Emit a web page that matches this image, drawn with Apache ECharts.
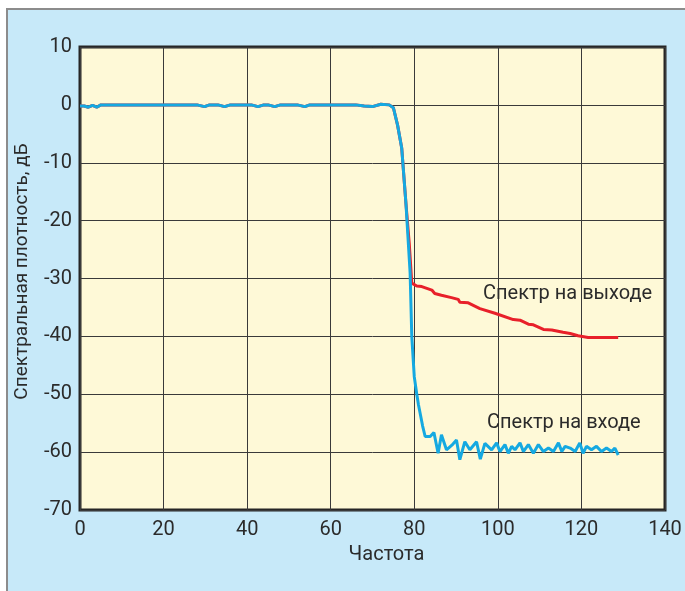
<!DOCTYPE html>
<html>
<head>
<meta charset="utf-8">
<script src="https://cdn.jsdelivr.net/npm/echarts@6/dist/echarts.min.js"></script>
<style>
  html, body { margin: 0; padding: 0; background: #fff; }
  #chart { width: 685px; height: 591px; }
</style>
</head>
<body>
<div id="chart"></div>
<script>
// оси
const xTicks = [0, 20, 40, 60, 80, 100, 120, 140];
const yTicks = [-70, -60, -50, -40, -30, -20, -10, 0, 10];

// общая полоса пропускания (0..74)
const passFreq = [0, 1, 2, 3, 4, 5, 6, 28, 29.8, 31, 33, 34.6, 36, 41, 42.6, 44, 45, 46.6, 48, 52, 53.8, 55, 66, 68, 70, 72, 74];
const passDb = [-0.2, -0.2, -0.4, -0.1, -0.4, 0, 0, 0, -0.3, 0, 0, -0.3, 0, 0, -0.3, 0, 0, -0.3, 0, 0, -0.3, 0, 0, -0.2, -0.3, 0.1, 0];

// спектр на входе (голубой), после полосы пропускания
const inFreq = [75, 76, 77, 78, 79, 79.4, 80, 80.6, 81, 82, 82.6, 83.8, 84.7, 85.7, 86.5, 87.7, 89, 90.1, 90.9, 92.1, 93.3, 94.9, 95.8, 96.9,
  98.5, 99.7, 100.5, 101.7, 102.5, 103.3, 104.1, 105.3, 106.1, 107.3, 108.5, 109.7, 110.9, 112.1, 113.3, 114.5, 115.3, 116.1,
  117.3, 118.5, 119.6, 120.4, 121.2, 122.4, 123.6, 124.8, 126.0, 127.2, 128.0, 128.8];
const inDb = [-0.5, -3.5, -7.5, -17, -29, -40, -47, -50, -51.8, -55.5, -57.3, -57.3, -56.6, -60.2, -57.0, -59.6, -58.8, -57.9, -61.3, -58.2, -59.6, -58.2, -61.2, -58.5,
  -59.6, -58.4, -59.9, -58.7, -60.2, -59.0, -59.6, -58.4, -59.9, -58.7, -60.2, -58.7, -59.9, -59.3, -59.9, -58.4, -59.9, -59.0,
  -59.3, -59.9, -58.4, -60.2, -59.0, -59.6, -59.0, -59.9, -59.3, -59.9, -59.3, -60.5];

// спектр на выходе (красный), после полосы пропускания
const outFreq = [75, 76, 77, 78, 78.8, 79.4, 80.6, 81.8, 84.2, 84.9, 86.5, 88.9, 90.5, 90.9, 92.9, 95.7, 99.3,
  103.7, 105.3, 107.3, 108.5, 110.9, 112.9, 115.6, 117.3, 119.2, 121.6, 128.8];
const outDb = [-0.5, -3.5, -7.5, -17, -24, -30.8, -31.3, -31.4, -32.0, -32.6, -32.9, -33.3, -33.6, -34.1, -34.2, -35.2, -36.0,
  -37.1, -37.2, -37.9, -38.0, -38.8, -38.9, -39.3, -39.5, -39.9, -40.2, -40.2];

const FONT = 'Roboto';
const TEXT = '#2b2b2b';

const chart = echarts.init(document.getElementById('chart'));

function pairs(xs, ys) {
  return xs.map((x, i) => [x, ys[i]]);
}

chart.setOption({
  animation: false,
  backgroundColor: '#ffffff',
  graphic: [{
    type: 'rect',
    z: -10,
    silent: true,
    shape: { x: 7, y: 9, width: 700, height: 600 },
    style: { fill: '#c7e9f9', stroke: '#8c8c8c', lineWidth: 2 }
  }, {
    type: 'text',
    left: 483,
    top: 284,
    z: 10,
    style: { text: 'Спектр на выходе', fill: TEXT, font: '20px ' + FONT }
  }, {
    type: 'text',
    left: 487,
    top: 413,
    z: 10,
    style: { text: 'Спектр на входе', fill: TEXT, font: '20px ' + FONT }
  }],
  grid: {
    left: 80,
    top: 47,
    right: 20,
    bottom: 81,
    show: true,
    backgroundColor: '#fef9d7',
    borderColor: '#262626',
    borderWidth: 3
  },
  xAxis: {
    type: 'value',
    min: xTicks[0],
    max: xTicks[xTicks.length - 1],
    interval: 20,
    name: 'Частота',
    nameLocation: 'middle',
    nameGap: 32,
    nameTextStyle: { color: TEXT, fontFamily: FONT, fontSize: 20, padding: [0, 0, 0, 28] },
    axisLine: { show: false },
    axisTick: { show: false },
    axisLabel: { color: TEXT, fontFamily: FONT, fontSize: 20, margin: 10 },
    splitLine: { lineStyle: { color: '#3a3a3a', width: 1 } }
  },
  yAxis: {
    type: 'value',
    min: yTicks[0],
    max: yTicks[yTicks.length - 1],
    interval: 10,
    name: 'Спектральная плотность, дБ',
    nameLocation: 'middle',
    nameGap: 48,
    nameTextStyle: { color: TEXT, fontFamily: FONT, fontSize: 19, padding: [0, 0, 0, 14] },
    axisLine: { show: false },
    axisTick: { show: false },
    axisLabel: { color: TEXT, fontFamily: FONT, fontSize: 20, margin: 8 },
    splitLine: { lineStyle: { color: '#3a3a3a', width: 1 } }
  },
  series: [{
    name: 'Спектр на выходе',
    type: 'line',
    data: pairs(passFreq, passDb).concat(pairs(outFreq, outDb)),
    showSymbol: false,
    lineStyle: { color: '#e8202a', width: 3 },
    z: 3
  }, {
    name: 'Спектр на входе',
    type: 'line',
    data: pairs(passFreq, passDb).concat(pairs(inFreq, inDb)),
    showSymbol: false,
    lineStyle: { color: '#15a9e1', width: 3 },
    z: 4
  }]
});
</script>
</body>
</html>
